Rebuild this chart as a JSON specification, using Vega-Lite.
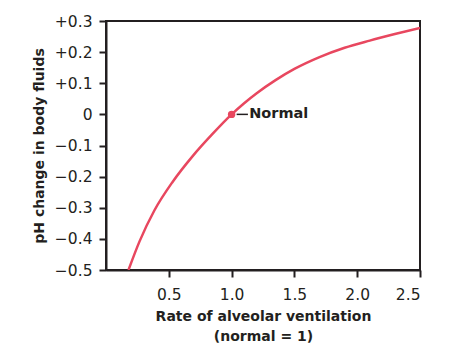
{
  "$schema": "https://vega.github.io/schema/vega-lite/v6.json",
  "width": 314,
  "height": 249,
  "autosize": {"type": "none"},
  "padding": {"left": 106, "top": 21, "right": 43, "bottom": 82},
  "background": "white",
  "config": {
    "view": {"stroke": "#231f20", "strokeWidth": 2},
    "font": "DejaVu Sans",
    "axis": {
      "domainColor": "#231f20", "domainWidth": 2, "tickColor": "#231f20", "tickWidth": 2, "tickSize": 7,
      "grid": false, "labelFont": "DejaVu Sans", "labelFontSize": 15.5, "labelColor": "#231f20", "labelOverlap": false,
      "titleFont": "DejaVu Sans", "titleFontSize": 14, "titleFontWeight": "bold", "titleColor": "#231f20"
    }
  },
  "datasets": {
    "curve": [
      {"v": 0.179, "ph": -0.5},
      {"v": 0.267, "ph": -0.408},
      {"v": 0.386, "ph": -0.308},
      {"v": 0.53, "ph": -0.217},
      {"v": 0.69, "ph": -0.134},
      {"v": 0.85, "ph": -0.062},
      {"v": 1.0, "ph": 0},
      {"v": 1.1, "ph": 0.036},
      {"v": 1.2, "ph": 0.068},
      {"v": 1.35, "ph": 0.11},
      {"v": 1.5, "ph": 0.146},
      {"v": 1.7, "ph": 0.184},
      {"v": 1.9, "ph": 0.214},
      {"v": 2.1, "ph": 0.237},
      {"v": 2.3, "ph": 0.258},
      {"v": 2.5, "ph": 0.278}
    ],
    "normal": [{"v": 1.0, "ph": 0, "v1": 1.04, "v2": 1.13, "vt": 1.14, "label": "Normal"}]
  },
  "layer": [
    {
      "data": {"name": "curve"},
      "mark": {"type": "line", "color": "#e8475f", "strokeWidth": 2.5, "interpolate": "monotone", "clip": true},
      "encoding": {
        "x": {"field": "v", "type": "quantitative", "scale": {"domain": [0, 2.5], "nice": false},
          "axis": {"values": [0.5, 1, 1.5, 2, 2.5], "tickCount": 20, "format": ".1f", "labelPadding": 10, "labelOverlap": false,
            "title": ["Rate of alveolar ventilation", "(normal = 1)"], "titlePadding": 7, "titleLineHeight": 20}},
        "y": {"field": "ph", "type": "quantitative", "scale": {"domain": [-0.5, 0.3], "nice": false, "zero": false},
          "axis": {"values": [-0.5, -0.4, -0.3, -0.2, -0.1, 0, 0.1, 0.2, 0.3], "tickCount": 20, "labelPadding": 7, "labelOverlap": false,
            "labelExpr": "datum.value > 0.001 ? '+' + format(datum.value, '.1f') : (datum.value < -0.001 ? '\u2212' + format(-datum.value, '.1f') : '0')",
            "title": "pH change in body fluids", "titlePadding": 8}}
      }
    },
    {
      "data": {"name": "normal"},
      "mark": {"type": "point", "filled": true, "color": "#e8475f", "size": 55, "opacity": 1},
      "encoding": {
        "x": {"field": "v", "type": "quantitative"},
        "y": {"field": "ph", "type": "quantitative"}
      }
    },
    {
      "data": {"name": "normal"},
      "mark": {"type": "rule", "color": "#231f20", "strokeWidth": 1.5},
      "encoding": {
        "x": {"field": "v1", "type": "quantitative"},
        "x2": {"field": "v2"},
        "y": {"field": "ph", "type": "quantitative"}
      }
    },
    {
      "data": {"name": "normal"},
      "mark": {"type": "text", "align": "left", "baseline": "middle", "font": "DejaVu Sans", "fontSize": 14.5, "fontWeight": "bold", "color": "#231f20"},
      "encoding": {
        "x": {"field": "vt", "type": "quantitative"},
        "y": {"field": "ph", "type": "quantitative"},
        "text": {"field": "label"}
      }
    }
  ]
}
